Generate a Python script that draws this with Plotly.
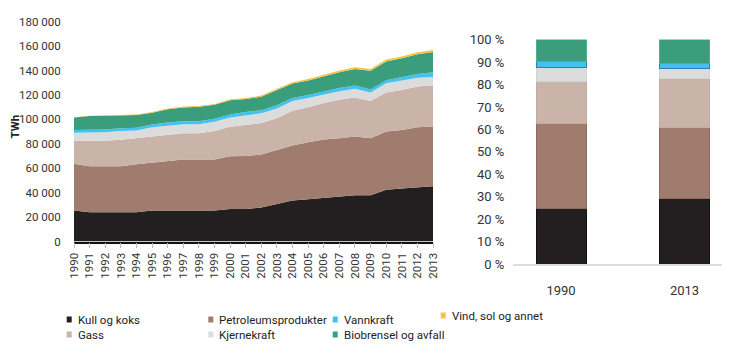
import plotly.graph_objects as go

# page body has an 8px margin; the figure fills the rest of the 730x357 window
OFF = 8
W, H = 730 - OFF, 357 - OFF


def X(px):
    return (px - OFF) / W


def Y(py):
    return (H - (py - OFF)) / H


years = list(range(1990, 2014))

kull = [25400, 24000, 24000, 24000, 24000, 25400, 25400, 25400, 25400, 25400, 26600, 26700,
        27800, 30800, 33500, 34600, 35700, 36800, 37900, 37900, 42300, 43400, 44400, 45300]
petro = [38200, 37600, 37600, 37600, 39300, 39200, 40300, 41700, 41700, 41700, 43200, 43400,
         43400, 44200, 45100, 46700, 47800, 47800, 48000, 46700, 47700, 48000, 49200, 48800]
gass = [19000, 20900, 20900, 21700, 21200, 21400, 21700, 21500, 21600, 23400, 24200, 25400,
        25800, 26000, 28400, 28700, 30000, 31400, 32100, 30400, 32000, 32600, 33400, 33900]
kjerne = [6400, 6500, 7000, 7200, 6500, 7500, 7600, 7400, 7300, 7500, 7500, 8000,
          8000, 8000, 8000, 7500, 7000, 7000, 7000, 7000, 7500, 7500, 7000, 6800]
vann = [2400, 2300, 2300, 2300, 2200, 2300, 2500, 2400, 2400, 2500, 2500, 2500,
        2500, 2500, 2500, 2500, 2500, 2800, 2800, 2500, 2500, 3000, 3200, 3800]
bio = [10100, 11400, 11100, 10400, 10300, 9600, 10900, 11400, 11900, 11400, 11700, 10700,
       11100, 12500, 11900, 11900, 12500, 12900, 13400, 15400, 15500, 15500, 16100, 16500]
vind = [200, 300, 400, 500, 500, 600, 600, 700, 700, 800, 800, 900,
        900, 1000, 1000, 1100, 1200, 1300, 1400, 1400, 1500, 1600, 1700, 1800]

names = ["Kull og koks", "Petroleumsprodukter", "Gass", "Kjernekraft", "Vannkraft",
         "Biobrensel og avfall", "Vind, sol og annet"]
series = [kull, petro, gass, kjerne, vann, bio, vind]
colors = ["#231f20", "#a07c6f", "#cab3a9", "#dcdcdc", "#43c1ef", "#3a9e7d", "#f6c445"]
edge = ["#111111", "#8c6b5e", "#c3aba0", "#d4d4d4", "#2f7fb5", "#52ad8e", "#f6c445"]

y_ticks = list(range(0, 180001, 20000))
y_labels = [f"{v:,}".replace(",", " ") for v in y_ticks]
bar_cats = ["1990", "2013"]
pct_ticks = list(range(0, 101, 10))

fig = go.Figure()

for n, s, c in zip(names, series, colors):
    fig.add_trace(go.Scatter(x=years, y=s, name=n, stackgroup="one", mode="lines",
                             line=dict(width=0, color=c), fillcolor=c,
                             showlegend=False, xaxis="x", yaxis="y"))

# share bars (the tiny wind/solar share is not visible in the reference bars)
for n, s, c, e in zip(names[:6], series[:6], colors[:6], edge[:6]):
    fig.add_trace(go.Bar(x=bar_cats, y=[s[0], s[-1]], name=n, width=0.405,
                         marker=dict(color=c, line=dict(color=e, width=1)),
                         showlegend=False, xaxis="x2", yaxis="y2"))

tickfont = dict(family="Roboto, Arial, sans-serif", size=11.5, color="#333333")
tickfont2 = dict(family="Roboto, Arial, sans-serif", size=13, color="#333333")

fig.update_layout(
    width=W, height=H,
    margin=dict(l=0, r=0, t=0, b=0, pad=0),
    paper_bgcolor="white", plot_bgcolor="white",
    barmode="stack", barnorm="percent",
    xaxis=dict(domain=[X(74), X(433)], range=[1990, 2013], automargin=False,
               tickmode="array", tickvals=years, ticktext=[str(y) for y in years],
               tickangle=-90, ticks="outside", ticklen=5, tickcolor="#bbbbbb",
               showline=True, linecolor="#111111", linewidth=1.5,
               showgrid=False, zeroline=False, tickfont=tickfont),
    yaxis=dict(domain=[Y(241.5), Y(21.7)], range=[0, 180000], automargin=False,
               tickmode="array", tickvals=y_ticks, ticktext=y_labels,
               ticks="outside", ticklen=10, tickcolor="rgba(0,0,0,0)",
               showline=False, showgrid=False, zeroline=False, tickfont=tickfont),
    xaxis2=dict(domain=[X(513), 1.0], type="category", range=[-0.389, 1.368], automargin=False,
                showline=True, linecolor="#dddddd", linewidth=1.5,
                ticks="outside", ticklen=13, tickcolor="rgba(0,0,0,0)",
                showgrid=False, zeroline=False, anchor="y2", tickfont=tickfont2),
    yaxis2=dict(domain=[Y(264.3), Y(39.5)], range=[0, 100], automargin=False,
                tickmode="array", tickvals=pct_ticks, ticktext=[f"{v} %" for v in pct_ticks],
                ticks="outside", ticklen=5, tickcolor="rgba(0,0,0,0)",
                showline=False, showgrid=False, zeroline=False, anchor="x2", tickfont=tickfont2),
)

# y-axis title
fig.add_annotation(text="<b>TWh</b>", x=X(14.5), y=Y(127), xref="paper", yref="paper",
                   textangle=-90, showarrow=False, xanchor="center", yanchor="middle",
                   font=dict(family="Roboto, Arial, sans-serif", size=11.5, color="#222222"))

# legend (marker squares + text)
legend_pos = [
    (0, 66.7, 319.5), (1, 208.3, 319.5), (4, 332.7, 319.5), (6, 440.7, 315.5),
    (2, 66.7, 334.5), (3, 208.3, 334.5), (5, 332.7, 334.5),
]
lfont = dict(family="Roboto, Arial, sans-serif", size=11.5, color="#222222")
for idx, px, py in legend_pos:
    fig.add_shape(type="rect", xref="paper", yref="paper",
                  x0=X(px), x1=X(px + 5), y0=Y(py + 3), y1=Y(py - 3),
                  fillcolor=colors[idx], line=dict(width=0))
    fig.add_annotation(text=names[idx], x=X(px + 9), y=Y(py), xref="paper", yref="paper",
                       showarrow=False, xanchor="left", yanchor="middle", font=lfont)

fig.write_html("out.html")
